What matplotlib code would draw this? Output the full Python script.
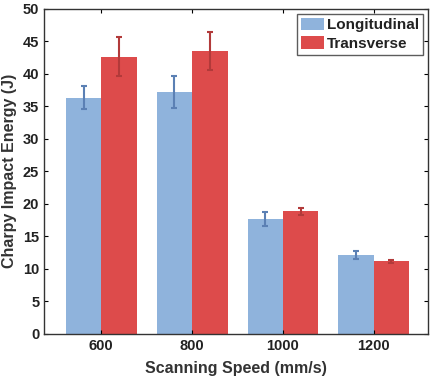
import matplotlib.pyplot as plt
import numpy as np

plt.rcParams['font.family'] = ['Liberation Sans', 'DejaVu Sans']
plt.rcParams['font.weight'] = 'bold'

speeds = ["600", "800", "1000", "1200"]
longitudinal = [36.3, 37.2, 17.6, 12.1]
longitudinal_err = [1.8, 2.5, 1.1, 0.6]
transverse = [42.6, 43.5, 18.8, 11.1]
transverse_err = [3.0, 2.9, 0.6, 0.3]

x = np.arange(1, len(speeds) + 1)
width = 0.39

fig = plt.figure(figsize=(4.41, 3.88), dpi=100)
ax = fig.add_axes([0.1, 0.14, 0.871, 0.838])

ax.bar(x - width / 2, longitudinal, width, color="#8fb3dc", label="Longitudinal",
       yerr=longitudinal_err, error_kw=dict(ecolor="#5b80b4", elinewidth=1.5, capsize=2, capthick=1.5))
ax.bar(x + width / 2, transverse, width, color="#dd4b4b", label="Transverse",
       yerr=transverse_err, error_kw=dict(ecolor="#b23a3a", elinewidth=1.5, capsize=2, capthick=1.5))

ax.set_xlim(0.37, 4.6)
ax.set_ylim(0, 50)
ax.set_yticks(range(0, 51, 5))
ax.set_xticks(x, speeds)
ax.tick_params(direction="in", top=True, right=True, labelsize=10.5, length=3,
               labelcolor="#222222")
for lab in ax.get_xticklabels() + ax.get_yticklabels():
    lab.set_fontweight("bold")
for s in ax.spines.values():
    s.set_linewidth(1.0)
    s.set_color("#333333")

ax.set_xlabel("Scanning Speed (mm/s)", fontsize=11.5, fontweight="bold", color="#333333", labelpad=6)
ax.set_ylabel("Charpy Impact Energy (J)", fontsize=11.5, fontweight="bold", color="#333333")

leg = ax.legend(loc="upper right", fontsize=11, frameon=True, fancybox=False,
                edgecolor="#333333", handlelength=1.5, handleheight=0.9, handletextpad=0.2,
                borderpad=0.25, labelspacing=0.25, borderaxespad=0.35)
leg.get_frame().set_linewidth(1.0)
for t in leg.get_texts():
    t.set_fontweight("bold")
    t.set_color("#222222")

fig.savefig("out.png", dpi=100)
